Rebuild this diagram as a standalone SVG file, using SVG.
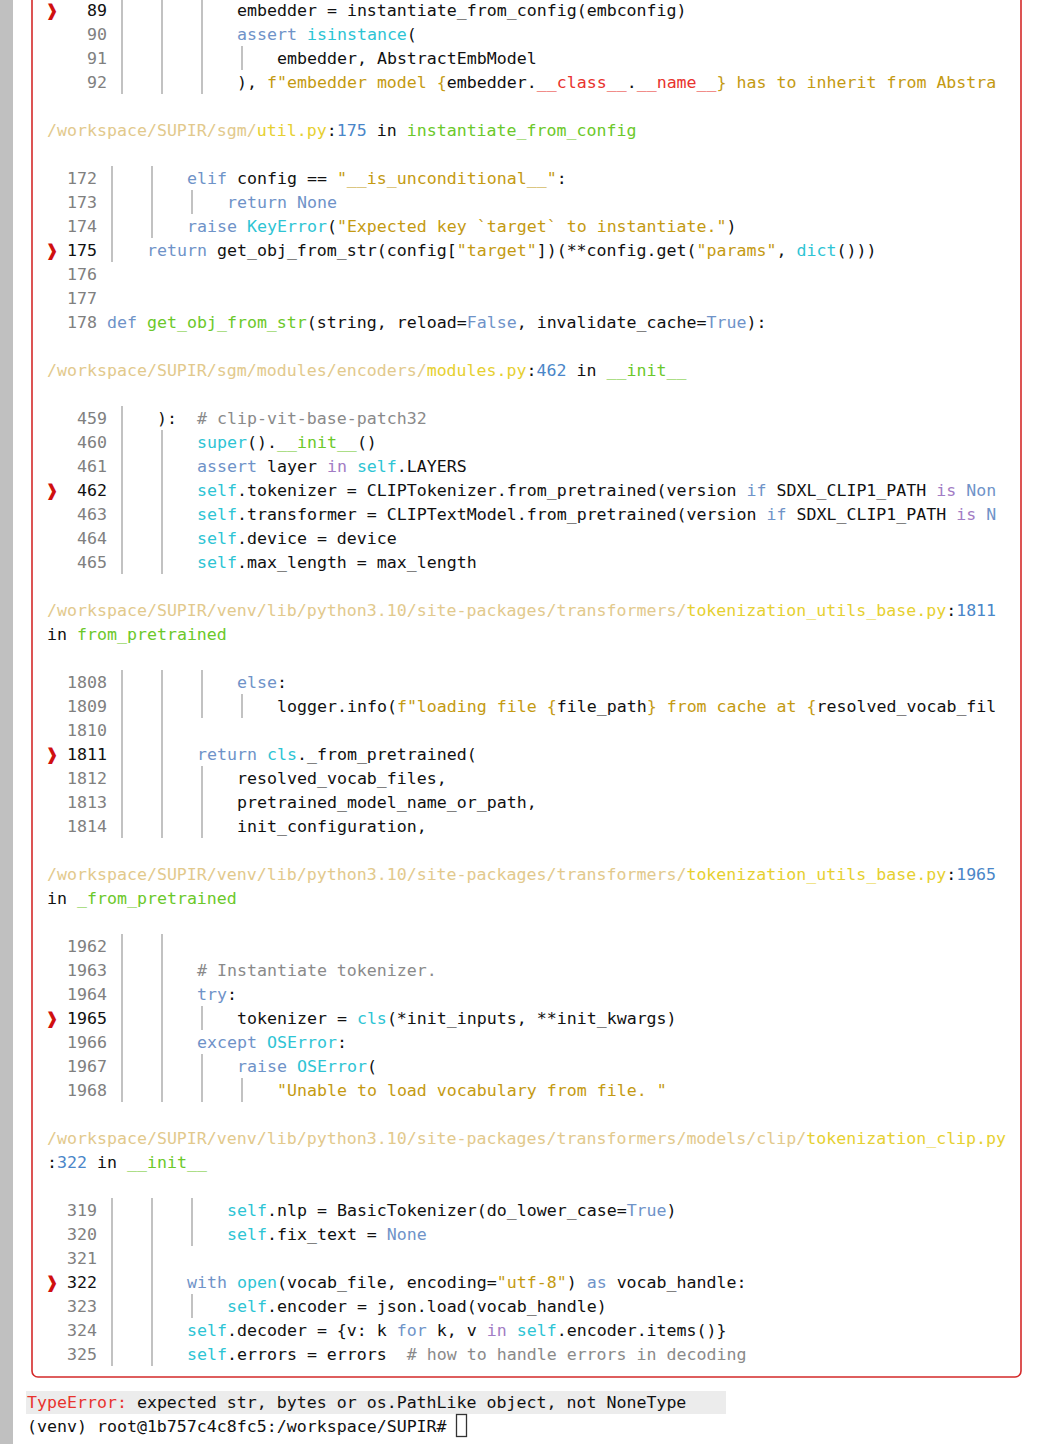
<svg xmlns="http://www.w3.org/2000/svg" width="1054" height="1444" viewBox="0 0 1054 1444">
<style>
text{font-family:"DejaVu Sans Mono","Liberation Mono",monospace;font-size:16.6px;fill:#111;white-space:pre}
.n{fill:#808080}.nc{fill:#111}
.mk{fill:#d01010;font-weight:bold;font-family:"DejaVu Sans","DejaVu Sans Mono",sans-serif}
.k{fill:#6f93c8}.p{fill:#a27cc4}.b{fill:#2ec4d4}.s{fill:#c49a12}.g{fill:#6cc82a}.r{fill:#e8332e}.c{fill:#8a8a8a}
.pt{fill:#e2c98c}.fy{fill:#e6d030}.ln{fill:#4a86c8}
.gd line{stroke:#a8a8a8;stroke-width:1.4}
</style>
<rect width="1054" height="1444" fill="#fff"/>
<rect x="0" y="0" width="13" height="1444" fill="#c0c0c0"/>
<rect x="32" y="-20" width="989" height="1397" rx="6" fill="none" stroke="#d42a2a" stroke-width="1.6"/>
<g class="gd" id="guides">
<line x1="122" y1="0" x2="122" y2="94"/><line x1="162" y1="0" x2="162" y2="94"/><line x1="202" y1="0" x2="202" y2="94"/><line x1="242" y1="46" x2="242" y2="70"/>
<line x1="112" y1="166" x2="112" y2="262"/><line x1="152" y1="166" x2="152" y2="238"/><line x1="192" y1="190" x2="192" y2="214"/>
<line x1="122" y1="406" x2="122" y2="574"/><line x1="162" y1="430" x2="162" y2="574"/>
<line x1="122" y1="670" x2="122" y2="838"/><line x1="162" y1="670" x2="162" y2="838"/><line x1="202" y1="670" x2="202" y2="718"/><line x1="202" y1="766" x2="202" y2="838"/><line x1="242" y1="694" x2="242" y2="718"/>
<line x1="122" y1="934" x2="122" y2="1102"/><line x1="162" y1="934" x2="162" y2="1102"/><line x1="202" y1="1006" x2="202" y2="1030"/><line x1="202" y1="1054" x2="202" y2="1102"/><line x1="242" y1="1078" x2="242" y2="1102"/>
<line x1="112" y1="1198" x2="112" y2="1366"/><line x1="152" y1="1198" x2="152" y2="1366"/><line x1="192" y1="1198" x2="192" y2="1246"/><line x1="192" y1="1294" x2="192" y2="1318"/>
</g>
<g id="markers">
<text class="mk" x="45" y="16">❱</text><text class="mk" x="45" y="256">❱</text><text class="mk" x="45" y="496">❱</text><text class="mk" x="45" y="760">❱</text><text class="mk" x="45" y="1024">❱</text><text class="mk" x="45" y="1288">❱</text>
</g>
<g id="frame1">
<g text-anchor="end"><text class="nc" x="107" y="16">89</text><text class="n" x="107" y="40">90</text><text class="n" x="107" y="64">91</text><text class="n" x="107" y="88">92</text></g>
<text x="237" y="16">embedder = instantiate_from_config(embconfig)</text>
<text x="237" y="40"><tspan class="k">assert</tspan> <tspan class="b">isinstance</tspan>(</text>
<text x="277" y="64">embedder, AbstractEmbModel</text>
<text x="237" y="88">), <tspan class="s">f"embedder model {</tspan>embedder.<tspan class="r">__class__</tspan>.<tspan class="r">__name__</tspan><tspan class="s">} has to inherit from Abstra</tspan></text>
</g>
<g id="frame2">
<text x="47" y="136"><tspan class="pt">/workspace/SUPIR/sgm/</tspan><tspan class="fy">util.py</tspan>:<tspan class="ln">175</tspan> in <tspan class="g">instantiate_from_config</tspan></text>
<g text-anchor="end"><text class="n" x="97" y="184">172</text><text class="n" x="97" y="208">173</text><text class="n" x="97" y="232">174</text><text class="nc" x="97" y="256">175</text><text class="n" x="97" y="280">176</text><text class="n" x="97" y="304">177</text><text class="n" x="97" y="328">178</text></g>
<text x="187" y="184"><tspan class="k">elif</tspan> config == <tspan class="s">"__is_unconditional__"</tspan>:</text>
<text x="227" y="208" class="k">return None</text>
<text x="187" y="232"><tspan class="k">raise</tspan> <tspan class="b">KeyError</tspan>(<tspan class="s">"Expected key `target` to instantiate."</tspan>)</text>
<text x="147" y="256"><tspan class="k">return</tspan> get_obj_from_str(config[<tspan class="s">"target"</tspan>])(**config.get(<tspan class="s">"params"</tspan>, <tspan class="b">dict</tspan>()))</text>
<text x="107" y="328"><tspan class="k">def</tspan> <tspan class="g">get_obj_from_str</tspan>(string, reload=<tspan class="k">False</tspan>, invalidate_cache=<tspan class="k">True</tspan>):</text>
</g>
<g id="frame3">
<text x="47" y="376"><tspan class="pt">/workspace/SUPIR/sgm/modules/encoders/</tspan><tspan class="fy">modules.py</tspan>:<tspan class="ln">462</tspan> in <tspan class="g">__init__</tspan></text>
<g text-anchor="end"><text class="n" x="107" y="424">459</text><text class="n" x="107" y="448">460</text><text class="n" x="107" y="472">461</text><text class="nc" x="107" y="496">462</text><text class="n" x="107" y="520">463</text><text class="n" x="107" y="544">464</text><text class="n" x="107" y="568">465</text></g>
<text x="157" y="424">):  <tspan class="c"># clip-vit-base-patch32</tspan></text>
<text x="197" y="448"><tspan class="b">super</tspan>().<tspan class="g">__init__</tspan>()</text>
<text x="197" y="472"><tspan class="k">assert</tspan> layer <tspan class="p">in</tspan> <tspan class="b">self</tspan>.LAYERS</text>
<text x="197" y="496"><tspan class="b">self</tspan>.tokenizer = CLIPTokenizer.from_pretrained(version <tspan class="k">if</tspan> SDXL_CLIP1_PATH <tspan class="p">is</tspan> <tspan class="k">Non</tspan></text>
<text x="197" y="520"><tspan class="b">self</tspan>.transformer = CLIPTextModel.from_pretrained(version <tspan class="k">if</tspan> SDXL_CLIP1_PATH <tspan class="p">is</tspan> <tspan class="k">N</tspan></text>
<text x="197" y="544"><tspan class="b">self</tspan>.device = device</text>
<text x="197" y="568"><tspan class="b">self</tspan>.max_length = max_length</text>
</g>
<g id="frame4">
<text x="47" y="616"><tspan class="pt">/workspace/SUPIR/venv/lib/python3.10/site-packages/transformers/</tspan><tspan class="fy">tokenization_utils_base.py</tspan>:<tspan class="ln">1811</tspan></text>
<text x="47" y="640">in <tspan class="g">from_pretrained</tspan></text>
<g text-anchor="end"><text class="n" x="107" y="688">1808</text><text class="n" x="107" y="712">1809</text><text class="n" x="107" y="736">1810</text><text class="nc" x="107" y="760">1811</text><text class="n" x="107" y="784">1812</text><text class="n" x="107" y="808">1813</text><text class="n" x="107" y="832">1814</text></g>
<text x="237" y="688"><tspan class="k">else</tspan>:</text>
<text x="277" y="712">logger.info(<tspan class="s">f"loading file {</tspan>file_path<tspan class="s">} from cache at {</tspan>resolved_vocab_fil</text>
<text x="197" y="760"><tspan class="k">return</tspan> <tspan class="b">cls</tspan>._from_pretrained(</text>
<text x="237" y="784">resolved_vocab_files,</text>
<text x="237" y="808">pretrained_model_name_or_path,</text>
<text x="237" y="832">init_configuration,</text>
</g>
<g id="frame5">
<text x="47" y="880"><tspan class="pt">/workspace/SUPIR/venv/lib/python3.10/site-packages/transformers/</tspan><tspan class="fy">tokenization_utils_base.py</tspan>:<tspan class="ln">1965</tspan></text>
<text x="47" y="904">in <tspan class="g">_from_pretrained</tspan></text>
<g text-anchor="end"><text class="n" x="107" y="952">1962</text><text class="n" x="107" y="976">1963</text><text class="n" x="107" y="1000">1964</text><text class="nc" x="107" y="1024">1965</text><text class="n" x="107" y="1048">1966</text><text class="n" x="107" y="1072">1967</text><text class="n" x="107" y="1096">1968</text></g>
<text x="197" y="976" class="c"># Instantiate tokenizer.</text>
<text x="197" y="1000"><tspan class="k">try</tspan>:</text>
<text x="237" y="1024">tokenizer = <tspan class="b">cls</tspan>(*init_inputs, **init_kwargs)</text>
<text x="197" y="1048"><tspan class="k">except</tspan> <tspan class="b">OSError</tspan>:</text>
<text x="237" y="1072"><tspan class="k">raise</tspan> <tspan class="b">OSError</tspan>(</text>
<text x="277" y="1096" class="s">"Unable to load vocabulary from file. "</text>
</g>
<g id="frame6">
<text x="47" y="1144"><tspan class="pt">/workspace/SUPIR/venv/lib/python3.10/site-packages/transformers/models/clip/</tspan><tspan class="fy">tokenization_clip.py</tspan></text>
<text x="47" y="1168">:<tspan class="ln">322</tspan> in <tspan class="g">__init__</tspan></text>
<g text-anchor="end"><text class="n" x="97" y="1216">319</text><text class="n" x="97" y="1240">320</text><text class="n" x="97" y="1264">321</text><text class="nc" x="97" y="1288">322</text><text class="n" x="97" y="1312">323</text><text class="n" x="97" y="1336">324</text><text class="n" x="97" y="1360">325</text></g>
<text x="227" y="1216"><tspan class="b">self</tspan>.nlp = BasicTokenizer(do_lower_case=<tspan class="k">True</tspan>)</text>
<text x="227" y="1240"><tspan class="b">self</tspan>.fix_text = <tspan class="k">None</tspan></text>
<text x="187" y="1288"><tspan class="k">with</tspan> <tspan class="b">open</tspan>(vocab_file, encoding=<tspan class="s">"utf-8"</tspan>) <tspan class="k">as</tspan> vocab_handle:</text>
<text x="227" y="1312"><tspan class="b">self</tspan>.encoder = json.load(vocab_handle)</text>
<text x="187" y="1336"><tspan class="b">self</tspan>.decoder = {v: k <tspan class="k">for</tspan> k, v <tspan class="p">in</tspan> <tspan class="b">self</tspan>.encoder.items()}</text>
<text x="187" y="1360"><tspan class="b">self</tspan>.errors = errors  <tspan class="c"># how to handle errors in decoding</tspan></text>
</g>
<g id="error">
<rect x="26" y="1391" width="700" height="23" fill="#ececec"/>
<text x="27" y="1408"><tspan class="r">TypeError:</tspan> expected str, bytes or os.PathLike object, not NoneType</text>
<text x="27" y="1432">(venv) root@1b757c4c8fc5:/workspace/SUPIR# </text>
<rect x="456.5" y="1414.5" width="10" height="22" fill="none" stroke="#333" stroke-width="1.3"/>
</g>
</svg>
